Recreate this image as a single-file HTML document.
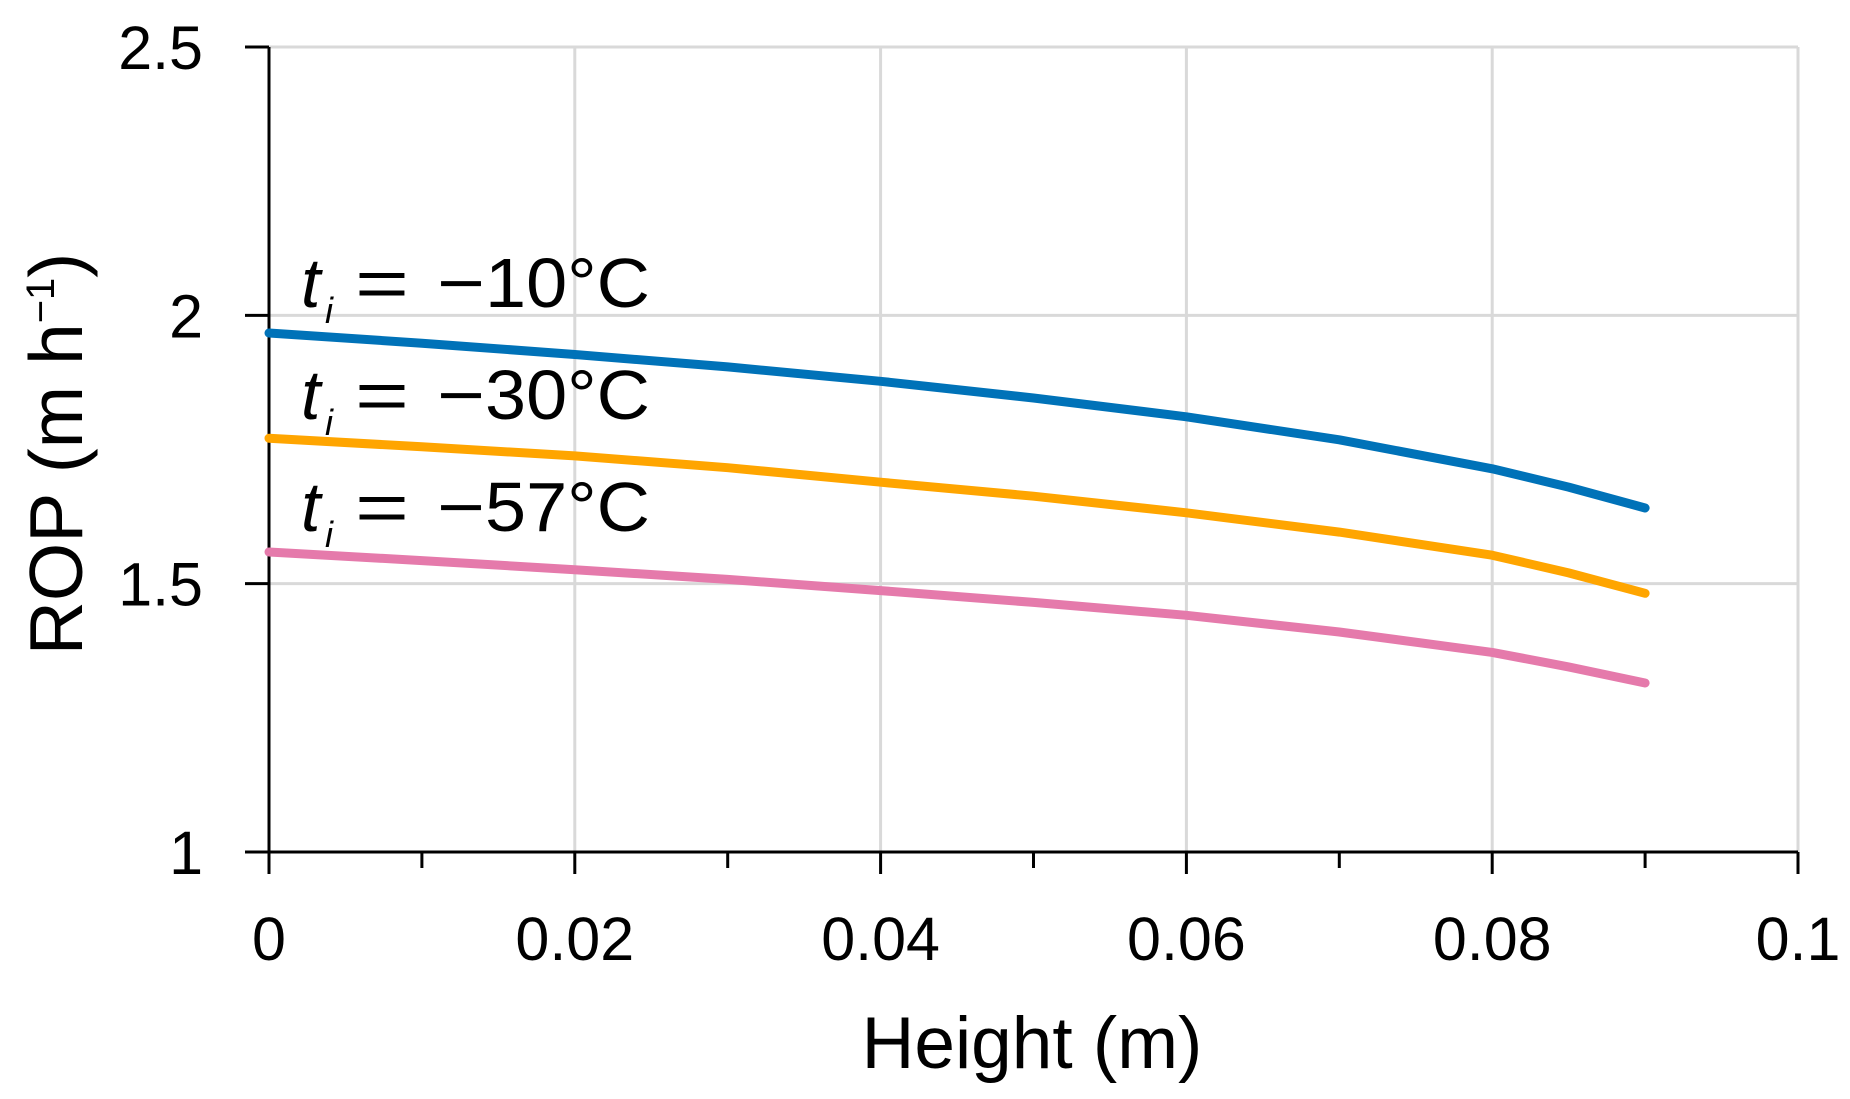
<!DOCTYPE html>
<html><head><meta charset="utf-8"><style>
html,body{margin:0;padding:0;background:#fff;}
svg{display:block;font-family:"Liberation Sans",Arial,sans-serif;}
</style></head><body>
<svg id="chart" width="1850" height="1099" viewBox="0 0 1850 1099" xmlns="http://www.w3.org/2000/svg"></svg>
<script>
const xVals = [0, 0.01, 0.02, 0.03, 0.04, 0.05, 0.06, 0.07, 0.08, 0.085, 0.09];
const blueVals = [1.967, 1.948, 1.927, 1.904, 1.877, 1.846, 1.811, 1.768, 1.714, 1.680, 1.641];
const orangeVals = [1.771, 1.755, 1.738, 1.716, 1.689, 1.663, 1.632, 1.596, 1.553, 1.520, 1.482];
const pinkVals = [1.559, 1.543, 1.526, 1.508, 1.487, 1.465, 1.441, 1.410, 1.372, 1.345, 1.315];
const xTicks = [0, 0.02, 0.04, 0.06, 0.08, 0.1];
const xTickLabels = ["0", "0.02", "0.04", "0.06", "0.08", "0.1"];
const xMinorTicks = [0.01, 0.03, 0.05, 0.07, 0.09];
const yTicks = [1, 1.5, 2, 2.5];
const yTickLabels = ["1", "1.5", "2", "2.5"];
const seriesLabels = ["10\u00B0C", "30\u00B0C", "57\u00B0C"];

const svg = document.getElementById('chart');
const NS = 'http://www.w3.org/2000/svg';
const X = v => 269 + (v - 0) / 0.1 * 1529;
const Y = v => 852 - (v - 1) / 1.5 * 805;
function mk(tag, attrs, parent) {
  const e = document.createElementNS(NS, tag);
  for (const k in attrs) e.setAttribute(k, attrs[k]);
  (parent || svg).appendChild(e);
  return e;
}
xTicks.forEach(v => {
  if (v === 0) return;
  const g = mk('line', {x1: X(v), x2: X(v), y1: Y(2.5), y2: Y(1), stroke: '#d9d9d9', 'stroke-width': 3});
  
  
});
yTicks.forEach(v => {
  if (v === 1) return;
  const g = mk('line', {x1: X(0), x2: X(0.1), y1: Y(v), y2: Y(v), stroke: '#d9d9d9', 'stroke-width': 3});
  
  
});
const ya = mk('line', {x1: X(0), x2: X(0), y1: Y(2.5), y2: Y(1) + 22, stroke: '#000', 'stroke-width': 3});


const xa = mk('line', {x1: X(0), x2: X(0.1), y1: Y(1), y2: Y(1), stroke: '#000', 'stroke-width': 3});


yTicks.forEach((v, i) => {
  const t = mk('line', {x1: X(0) - 24, x2: X(0), y1: Y(v), y2: Y(v), stroke: '#000', 'stroke-width': 3});
  
  
  const l = mk('text', {x: 203, y: Y(v) + 22, 'text-anchor': 'end', 'font-size': 61, fill: '#000'});
  l.textContent = yTickLabels[i];
  
  
});
xTicks.forEach((v, i) => {
  const t = mk('line', {x1: X(v), x2: X(v), y1: Y(1), y2: Y(1) + 22, stroke: '#000', 'stroke-width': 3});
  
  
  const l = mk('text', {x: X(v), y: 960, 'text-anchor': 'middle', 'font-size': 61, fill: '#000'});
  l.textContent = xTickLabels[i];
  
  
});
xMinorTicks.forEach(v => {
  const t = mk('line', {x1: X(v), x2: X(v), y1: Y(1), y2: Y(1) + 16, stroke: '#000', 'stroke-width': 3});
  
  
});
const series = [[blueVals, '#0072b8', 'series-minus-10'], [orangeVals, '#ffa500', 'series-minus-30'], [pinkVals, '#e57aab', 'series-minus-57']];
series.forEach(s => {
  const d = s[0].map((v, i) => (i ? 'L' : 'M') + X(xVals[i]).toFixed(1) + ',' + Y(v).toFixed(1)).join(' ');
  const p = mk('path', {d: d, fill: 'none', stroke: s[1], 'stroke-width': 9, 'stroke-linecap': 'round', 'stroke-linejoin': 'round'});
  
  
});
const labY = [307, 419, 531];
seriesLabels.forEach((s, i) => {
  const g = mk('g', {});
  
  
  const t = mk('text', {x: 301, y: labY[i], 'font-size': 70, 'font-style': 'italic', fill: '#000'}, g);
  t.textContent = 't';
  const sub = mk('text', {x: 325, y: labY[i] + 16, 'font-size': 36, 'font-style': 'italic', fill: '#000'}, g);
  sub.textContent = 'i';
  const eq = mk('text', {x: 355, y: labY[i], 'font-size': 70, fill: '#000', textLength: 54, lengthAdjust: 'spacingAndGlyphs'}, g);
  eq.textContent = '=';
  const mn = mk('text', {x: 437, y: labY[i], 'font-size': 70, fill: '#000', textLength: 48, lengthAdjust: 'spacingAndGlyphs'}, g);
  mn.textContent = '\u2212';
  const num = mk('text', {x: 485, y: labY[i], 'font-size': 70, fill: '#000', textLength: 165, lengthAdjust: 'spacingAndGlyphs'}, g);
  num.textContent = s;
});
const xt = mk('text', {x: 1032, y: 1068, 'text-anchor': 'middle', 'font-size': 73, fill: '#000'});
xt.textContent = 'Height (m)';


const yt = mk('text', {x: 0, y: 0, 'text-anchor': 'middle', 'font-size': 75, fill: '#000', transform: 'translate(82,454) rotate(-90)'});


const y1 = mk('tspan', {}, yt); y1.textContent = 'ROP (m h';
const y2 = mk('tspan', {'font-size': 40, dy: -28}, yt); y2.textContent = '\u22121';
const y3 = mk('tspan', {dy: 28}, yt); y3.textContent = ')';
</script>
</body></html>
